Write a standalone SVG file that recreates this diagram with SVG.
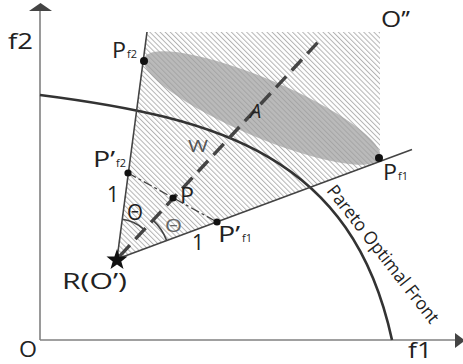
<svg xmlns="http://www.w3.org/2000/svg" width="463" height="364" viewBox="0 0 463 364">
<style>
text{font-family:"Open Sans","Liberation Sans",sans-serif;fill:#222}
.lbl{font-size:21px}
.sub{font-size:11px}
.ln{stroke:#444;stroke-width:1.6;fill:none}
.axis{stroke:#808080;stroke-width:1.6;fill:none}
.dot{fill:#111}
</style>
<defs>
<pattern id="hatch" patternUnits="userSpaceOnUse" width="3.6" height="10" patternTransform="rotate(-45)">
<line x1="0.5" y1="0" x2="0.5" y2="10" stroke="#b3b3b3" stroke-width="1"/>
</pattern>
</defs>
<rect width="463" height="364" fill="#fff"/>
<g id="region">
<polygon points="117,259 147,32 380,32 380,161.8" fill="url(#hatch)"/>
<ellipse cx="262" cy="108" rx="128" ry="29" transform="rotate(23 262 108)" fill="#a0a0a0" fill-opacity="0.72"/>
</g>
<g id="axes">
<line class="axis" x1="40" y1="340" x2="40" y2="10"/>
<line class="axis" x1="40" y1="340" x2="456" y2="340"/>
<polygon points="29,11 52,11 40.5,3" fill="#444"/>
<polygon points="455,333 455,348 465,340.5" fill="#444"/>
</g>
<g id="connectors">
<path id="pareto" d="M40,95 C220,118 352,156 392,340" stroke="#333" stroke-width="2.6" fill="none"/>
<line class="ln" x1="117" y1="259" x2="147" y2="32"/>
<line class="ln" x1="117" y1="259" x2="412" y2="149.5"/>
<line x1="128" y1="173" x2="217" y2="222" stroke="#444" stroke-width="1.3" stroke-dasharray="9 3 3 3"/>
<line x1="117" y1="259" x2="320" y2="40" stroke="#444" stroke-width="3.4" stroke-dasharray="15 8" stroke-dashoffset="-4"/>
<path d="M122.2,219.3 A40,40 0 0 1 144.2,229.6" class="ln" stroke-width="1.3"/>
<path d="M153,220.1 A53,53 0 0 1 166.7,240.6" class="ln" stroke-width="1.3"/>
</g>
<g id="points">
<circle class="dot" cx="144" cy="61" r="4"/>
<circle class="dot" cx="379" cy="158" r="4"/>
<circle class="dot" cx="128" cy="173" r="3.6"/>
<circle class="dot" cx="173" cy="198" r="3.6"/>
<circle class="dot" cx="217" cy="222" r="3.6"/>
<polygon id="star" fill="#111" points="117,249 119.6,256.4 127.5,256.6 121.3,261.4 123.5,269 117,264.6 110.5,269 112.7,261.4 106.5,256.6 114.4,256.4"/>
</g>
<g id="labels">
<text class="lbl" x="8" y="49" textLength="25" lengthAdjust="spacingAndGlyphs">f2</text>
<text class="lbl" x="19" y="357" textLength="18" lengthAdjust="spacingAndGlyphs">O</text>
<text class="lbl" x="408" y="358" font-size="20" textLength="24" lengthAdjust="spacingAndGlyphs">f1</text>
<text class="lbl" x="381" y="27" textLength="29" lengthAdjust="spacingAndGlyphs">O’’</text>
<text class="lbl" x="62" y="289" textLength="65" lengthAdjust="spacingAndGlyphs">R(O’)</text>
<text class="lbl" x="112" y="58" textLength="14" lengthAdjust="spacingAndGlyphs">P</text><text class="sub" x="127" y="58">f2</text>
<text class="lbl" x="383" y="180" textLength="14" lengthAdjust="spacingAndGlyphs">P</text><text class="sub" x="398" y="180">f1</text>
<text class="lbl" x="93" y="167" textLength="22" lengthAdjust="spacingAndGlyphs">P’</text><text class="sub" x="116" y="167">f2</text>
<text class="lbl" x="218" y="242" textLength="22" lengthAdjust="spacingAndGlyphs">P’</text><text class="sub" x="242" y="242">f1</text>
<text class="lbl" x="107" y="202" font-size="20">1</text>
<text class="lbl" x="192" y="250" font-size="20">1</text>
<text class="lbl" x="180" y="203" font-size="19" textLength="14" lengthAdjust="spacingAndGlyphs">P</text>
<text class="lbl" x="127" y="220" font-size="19" textLength="16" lengthAdjust="spacingAndGlyphs">Θ</text>
<text x="165" y="232" font-size="18" style="fill:#666" textLength="17" lengthAdjust="spacingAndGlyphs">Θ</text>
<text x="188" y="152" font-size="16" style="fill:#555" textLength="20" lengthAdjust="spacingAndGlyphs">W</text>
<text x="250" y="118" font-size="20" font-style="italic">A</text>
<text x="326" y="191" font-size="18" transform="rotate(52 326 191)" textLength="170" lengthAdjust="spacingAndGlyphs">Pareto Optimal Front</text>
</g>
</svg>
